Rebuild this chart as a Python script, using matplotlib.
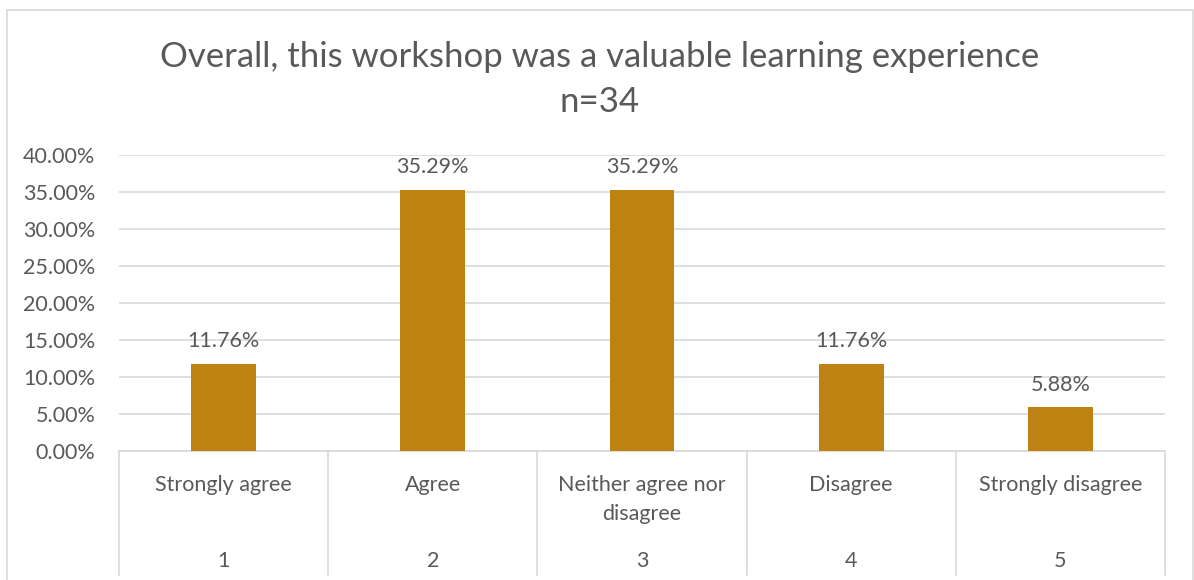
import matplotlib
matplotlib.use("Agg")
import matplotlib.pyplot as plt
from matplotlib.patches import Rectangle
from matplotlib.ticker import FuncFormatter

# Дані
categories = ["Strongly agree", "Agree", "Neither agree nor\ndisagree", "Disagree", "Strongly disagree"]
codes = ["1", "2", "3", "4", "5"]
shares = [11.76, 35.29, 35.29, 11.76, 5.88]
y_ticks = [0, 5, 10, 15, 20, 25, 30, 35, 40]

TXT = "#595959"
GRID = "#D9D9D9"
BAR = "#BE8212"
FS = 15.5

plt.rcParams["font.family"] = ["Lato", "DejaVu Sans"]

fig = plt.figure(figsize=(11.94, 5.8), dpi=100)
ax = fig.add_axes([119 / 1194, 1 - 451 / 580, (1165 - 119) / 1194, (451 - 155) / 580])

# Рамка діаграми
fig.patches.append(Rectangle((7 / 1194, -0.1), (1193 - 7) / 1194, 1.1 - 10 / 580,
                             transform=fig.transFigure, fill=False, edgecolor=GRID, lw=1.2))

x = list(range(len(categories)))
ax.bar(x, shares, width=0.31, color=BAR, zorder=3)

for xi, v in zip(x, shares):
    ax.text(xi, v + 1.7, f"{v:.2f}%", ha="center", va="bottom", fontsize=FS, color=TXT)

ax.set_xlim(-0.5, len(categories) - 0.5)
ax.set_ylim(0, 40)
ax.set_yticks(y_ticks)
ax.yaxis.set_major_formatter(FuncFormatter(lambda v, p: f"{v:.2f}%"))
ax.tick_params(axis="y", length=0, labelsize=FS, labelcolor=TXT, pad=17)
ax.set_xticks([])
ax.grid(axis="y", color=GRID, lw=1.2, zorder=0)
for s in ax.spines.values():
    s.set_visible(False)

# Дворівнева вісь X
trans = ax.get_xaxis_transform()
for b in range(len(categories) + 1):
    ax.plot([b - 0.5, b - 0.5], [0, -0.42], transform=trans, color=GRID, lw=1.2, clip_on=False)
ax.plot([-0.5, len(categories) - 0.5], [0, 0], transform=trans, color=GRID, lw=1.2, clip_on=False)

for xi, cat, code in zip(x, categories, codes):
    for i, line in enumerate(cat.split("\n")):
        ax.text(xi, -0.135 - i * 0.098, line, transform=trans, ha="center", va="baseline",
                fontsize=FS, color=TXT)
    ax.text(xi, -0.372, code, transform=trans, ha="center", va="center", fontsize=FS, color=TXT)

fig.text(0.502, 1 - 67 / 580, "Overall, this workshop was a valuable learning experience",
         ha="center", va="baseline", fontsize=25, color=TXT)
fig.text(0.502, 1 - 112 / 580, "n=34", ha="center", va="baseline", fontsize=25, color=TXT)

fig.savefig("out.png", dpi=100)
